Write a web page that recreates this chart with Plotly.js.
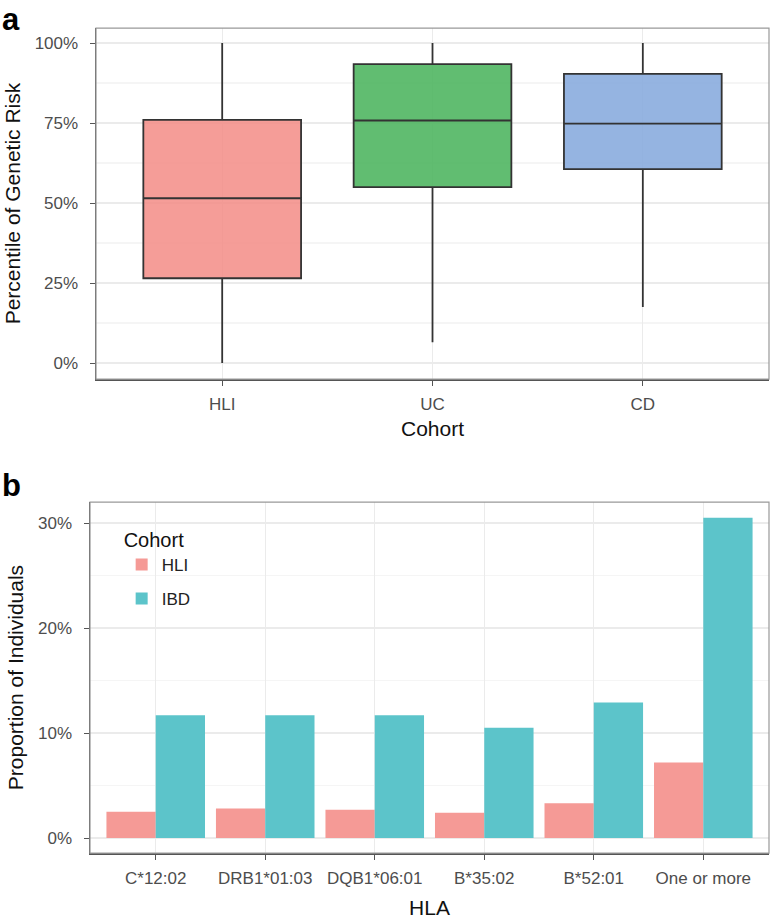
<!DOCTYPE html>
<html>
<head>
<meta charset="utf-8">
<script src="https://cdn.plot.ly/plotly-3.0.1.min.js"></script>
<style>
  html, body { margin: 0; padding: 0; background: #fff; }
  #chart { width: 770px; height: 922px; }
</style>
</head>
<body>
<div id="chart"></div>
<script>
// Panel a: percentile of genetic risk by cohort (box summaries, in %)
const cohorts = ['HLI', 'UC', 'CD'];
const lowerFence = [0, 6.5, 17.5];
const q1 = [26.5, 55, 60.6];
const median = [51.5, 75.8, 74.8];
const q3 = [76, 93.4, 90.4];
const upperFence = [100, 100, 100];
const boxColors = ['rgba(243,140,134,0.85)', 'rgba(80,182,98,0.9)', 'rgba(138,172,222,0.9)'];

// Panel b: proportion of individuals carrying each HLA allele (in %)
const alleles = ['C*12:02', 'DRB1*01:03', 'DQB1*06:01', 'B*35:02', 'B*52:01', 'One or more'];
const hliProp = [2.5, 2.8, 2.7, 2.4, 3.3, 7.2];
const ibdProp = [11.7, 11.7, 11.7, 10.5, 12.9, 30.5];

const tickFont = { family: 'Liberation Sans, Arial, sans-serif', size: 17, color: '#4d4d4d' };
const titleFont = { family: 'Liberation Sans, Arial, sans-serif', size: 21, color: '#111' };

const traces = [];
cohorts.forEach(function (c, i) {
    traces.push({
        type: 'box',
        x: [c],
        q1: [q1[i]],
        median: [median[i]],
        q3: [q3[i]],
        lowerfence: [lowerFence[i]],
        upperfence: [upperFence[i]],
        width: 0.75,
        whiskerwidth: 0,
        fillcolor: boxColors[i],
        line: { color: '#333', width: 1.8 },
        xaxis: 'x',
        yaxis: 'y',
        showlegend: false,
        hoverinfo: 'skip'
    });
});

traces.push({
    type: 'bar',
    name: 'HLI',
    legendgroup: 'hli',
    x: alleles,
    y: hliProp,
    marker: { color: 'rgb(245,154,150)' },
    xaxis: 'x2',
    yaxis: 'y2'
});
traces.push({
    type: 'bar',
    name: 'IBD',
    legendgroup: 'ibd',
    x: alleles,
    y: ibdProp,
    marker: { color: 'rgb(92,196,202)' },
    xaxis: 'x2',
    yaxis: 'y2'
});

function yAxis(domain, range, tickvals, minorDtick, title, standoff) {
    return {
        domain: domain,
        range: range,
        tickvals: tickvals,
        ticktext: tickvals.map(v => v + '%'),
        tickfont: tickFont,
        ticks: 'outside',
        ticklen: 5,
        tickcolor: '#555',
        ticklabelstandoff: 8,
        showline: true,
        linecolor: '#555',
        linewidth: 1.5,
        gridcolor: '#ebebeb',
        gridwidth: 1.2,
        minor: { dtick: minorDtick, tick0: 0, showgrid: true, gridcolor: '#f5f5f5', ticks: '' },
        zeroline: false,
        title: { text: title, font: titleFont, standoff: standoff },
        fixedrange: true
    };
}

function xAxis(domain, range, anchor, title, standoff) {
    return {
        domain: domain,
        range: range,
        anchor: anchor,
        type: 'category',
        tickfont: tickFont,
        ticks: 'outside',
        ticklen: 5,
        tickcolor: '#555',
        ticklabelstandoff: 4,
        showline: true,
        linecolor: '#555',
        linewidth: 1.5,
        showgrid: true,
        gridcolor: '#ebebeb',
        gridwidth: 1.2,
        zeroline: false,
        title: { text: title, font: titleFont, standoff: standoff },
        fixedrange: true
    };
}

const layout = {
    width: 770,
    height: 922,
    margin: { l: 0, r: 0, t: 0, b: 0 },
    paper_bgcolor: '#fff',
    plot_bgcolor: '#fff',
    font: { family: 'Liberation Sans, Arial, sans-serif' },
    boxmode: 'overlay',
    barmode: 'group',
    bargap: 0.1,
    bargroupgap: 0,
    xaxis: xAxis([0.1247, 0.9987], [-0.6, 2.6], 'y', 'Cohort', 8),
    yaxis: yAxis([0.5889, 0.9696], [-5, 104.7], [0, 25, 50, 75, 100], 12.5, 'Percentile of Genetic Risk', 8),
    xaxis2: xAxis([0.1169, 0.9987], [-0.6, 5.6], 'y2', 'HLA', 13),
    yaxis2: Object.assign(yAxis([0.0748, 0.4555], [-1.43, 32.0], [0, 10, 20, 30], 5, 'Proportion of Individuals', 8), { anchor: 'x2' }),
    legend: {
        x: 0.158,
        y: 0.435,
        xanchor: 'left',
        yanchor: 'top',
        bgcolor: 'rgba(255,255,255,0)',
        title: { text: 'Cohort', font: { size: 20, color: '#111' } },
        font: { size: 17, color: '#222' },
        tracegroupgap: 9
    },
    shapes: [
        { type: 'rect', xref: 'x domain', yref: 'y domain', x0: 0, x1: 1, y0: 0, y1: 1,
          line: { color: '#999', width: 1.2 } },
        { type: 'rect', xref: 'x2 domain', yref: 'y2 domain', x0: 0, x1: 1, y0: 0, y1: 1,
          line: { color: '#999', width: 1.2 } }
    ],
    annotations: [
        { text: '<b>a</b>', xref: 'paper', yref: 'paper', x: 0.0, y: 1.0, xanchor: 'left', yanchor: 'top',
          showarrow: false, font: { size: 31, color: '#000' } },
        { text: '<b>b</b>', xref: 'paper', yref: 'paper', x: 0.0, y: 0.4945, xanchor: 'left', yanchor: 'top',
          showarrow: false, font: { size: 31, color: '#000' } }
    ]
};

Plotly.newPlot('chart', traces, layout, { displayModeBar: false, staticPlot: true });
</script>
</body>
</html>
